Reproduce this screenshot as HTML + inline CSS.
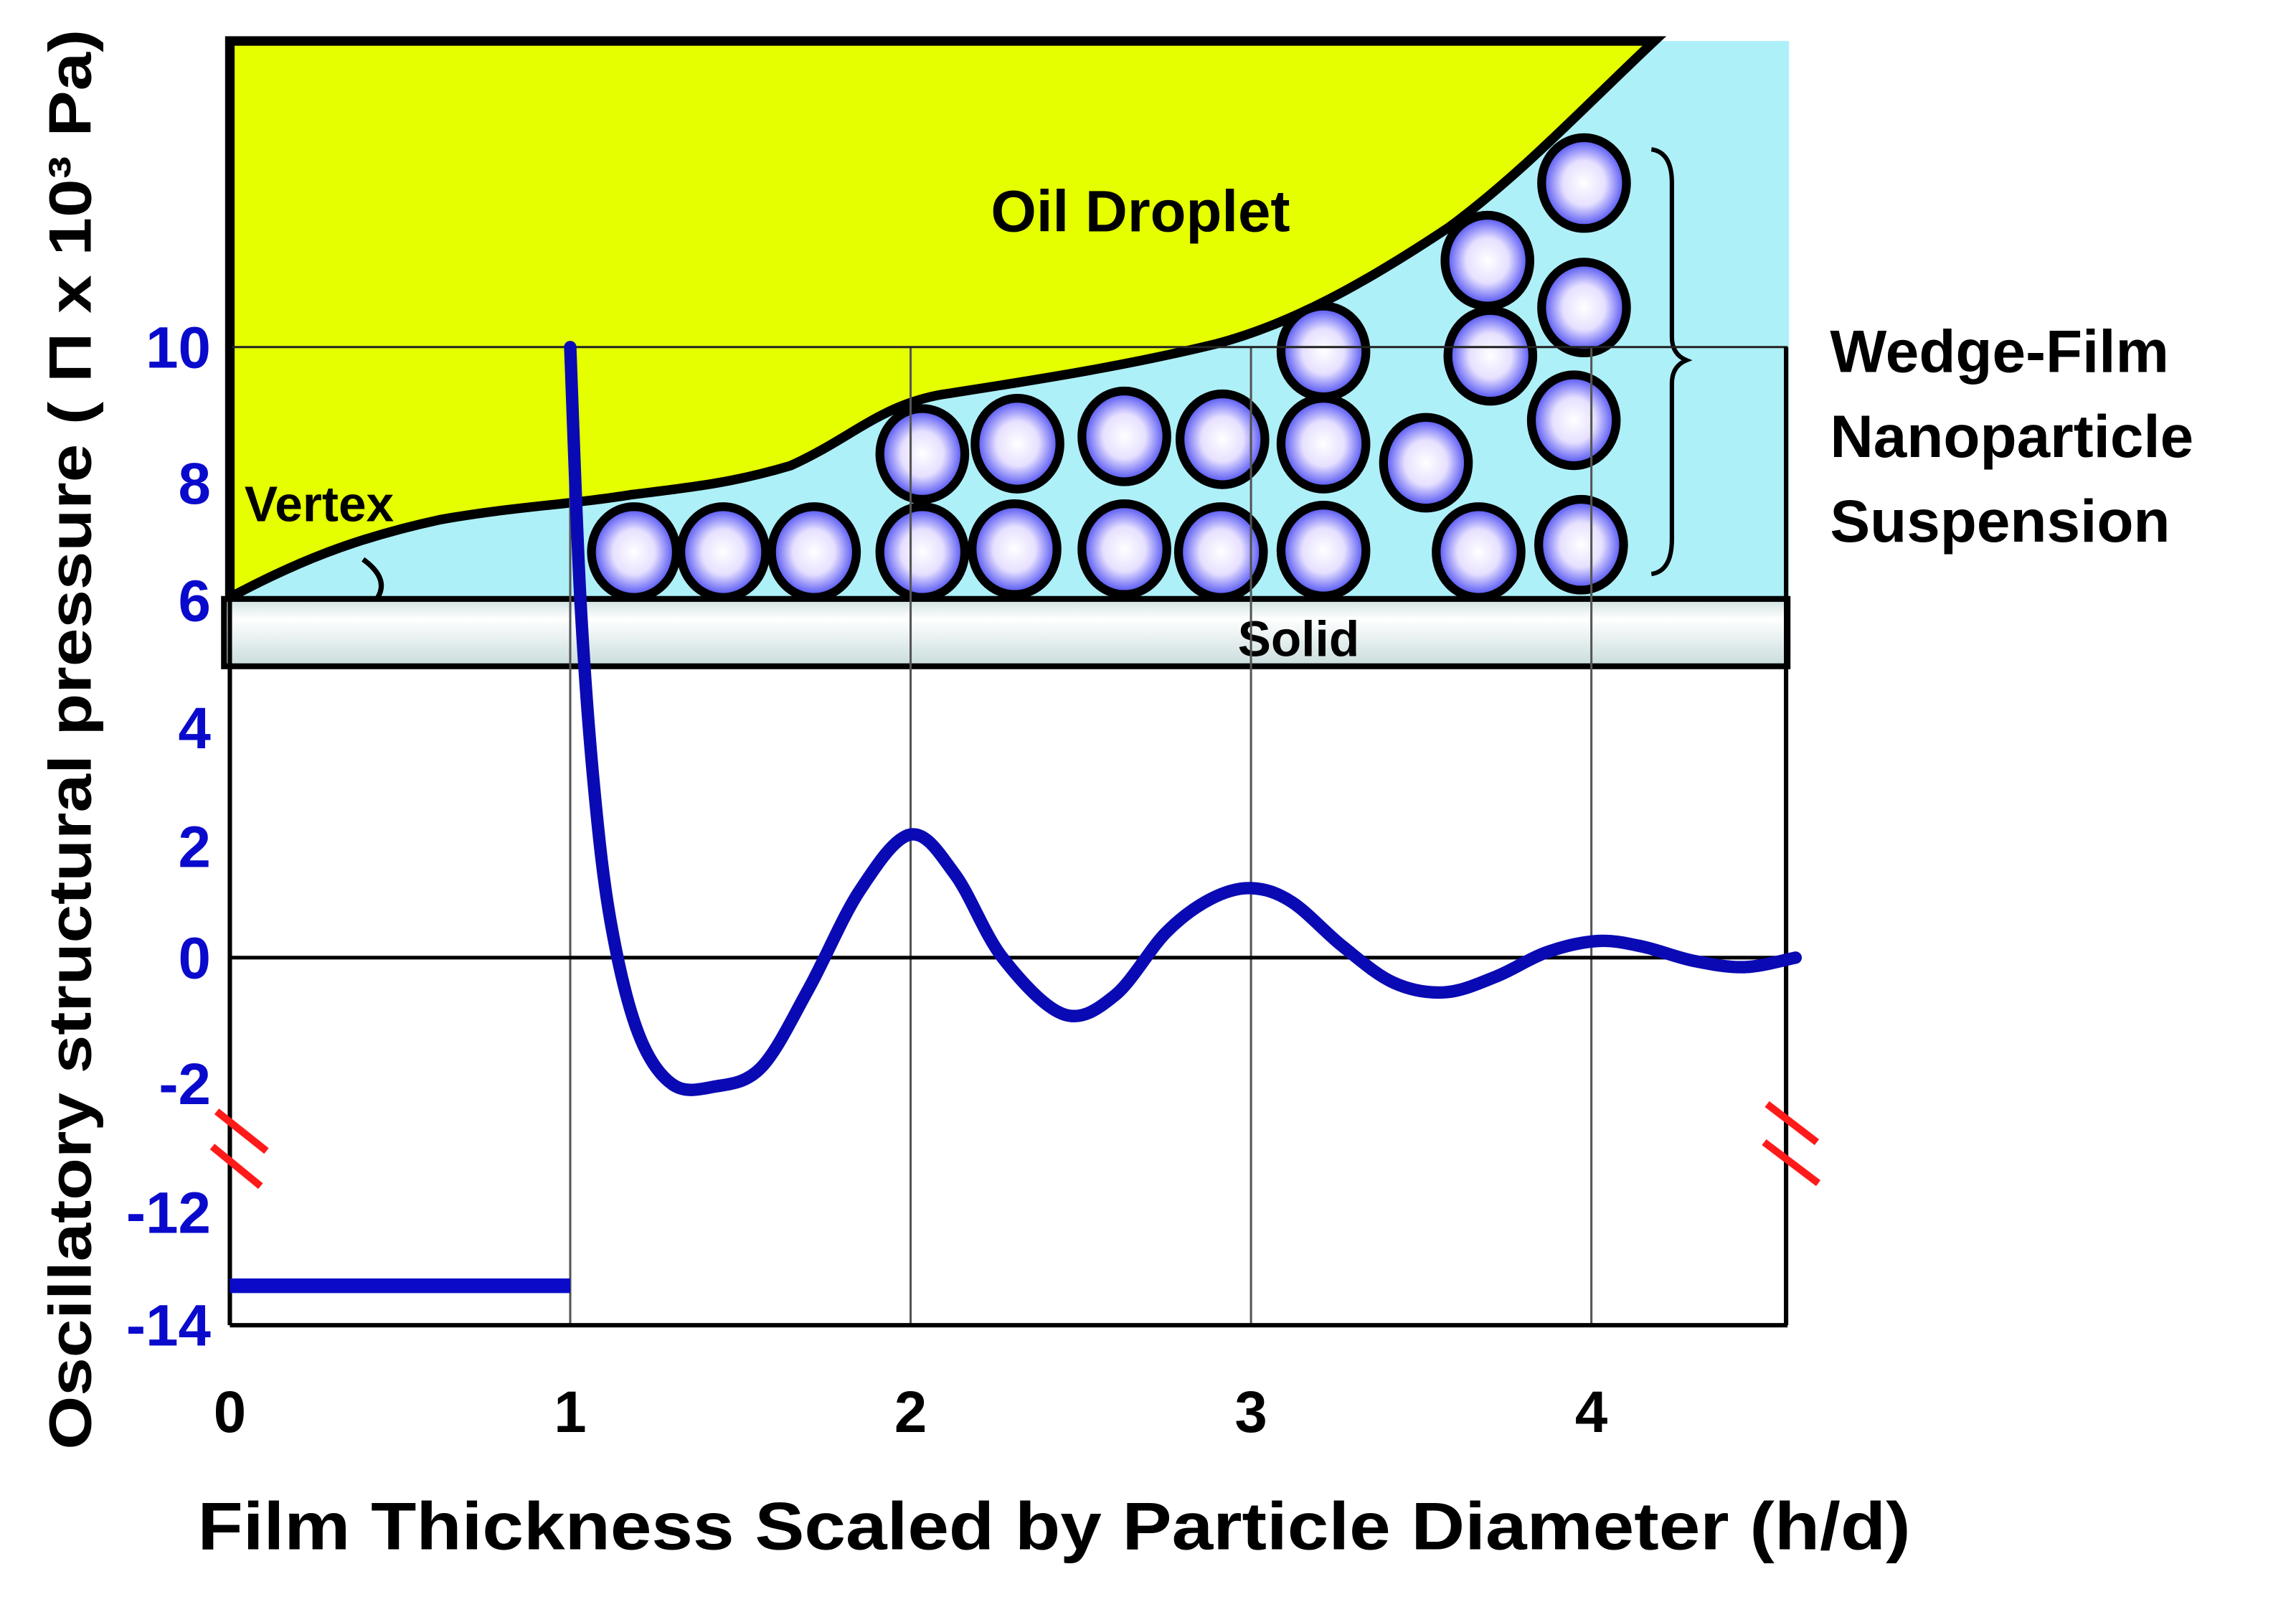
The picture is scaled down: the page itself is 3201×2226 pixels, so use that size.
<!DOCTYPE html>
<html><head><meta charset="utf-8"><style>
html,body{margin:0;padding:0;background:#fff;}
svg{display:block;}
text{font-family:"Liberation Sans",Arial,sans-serif;font-weight:bold;}
</style></head><body>
<svg id="chart" width="3201" height="2226" viewBox="0 0 1568.3 1090.6" xmlns="http://www.w3.org/2000/svg">
<defs>
<radialGradient id="pg" cx="50%" cy="50%" r="55%">
<stop offset="0" stop-color="#ffffff"/><stop offset="0.45" stop-color="#e6e0ff"/><stop offset="0.8" stop-color="#6a6af5"/><stop offset="1" stop-color="#2a2ae8"/>
</radialGradient>
<linearGradient id="sg" x1="0" y1="0" x2="0" y2="1">
<stop offset="0" stop-color="#cfe0e0"/><stop offset="0.3" stop-color="#ffffff"/><stop offset="1" stop-color="#c8dcdc"/>
</linearGradient>
</defs>
<rect x="157" y="28" width="1065" height="381" fill="#aef0f8"/>
<path d="M157,408 C200,385 240,368 300,355 C350,346 386,345 430,338 C470,333 500,330 540,318 C580,300 600,278 640,270 C690,262 760,252 830,235 C880,222 930,195 990,155 C1040,118 1080,75 1130,28 L157,28 Z" fill="#e5ff00" stroke="#000" stroke-width="6.5"/>
<line x1="157" y1="28" x2="1130" y2="28" stroke="#000" stroke-width="4"/>
<path d="M248,382 Q266,395 258,408" fill="none" stroke="#000" stroke-width="3.5"/>
<text x="779" y="158" font-size="40" text-anchor="middle">Oil Droplet</text>
<text x="167" y="356" font-size="34">Vertex</text>
<g id="particles"></g>
<path d="M1128,102 Q1142,104 1142,125 L1142,230 Q1142,242 1152,246 Q1142,250 1142,262 L1142,368 Q1142,390 1128,392" fill="none" stroke="#000" stroke-width="3"/>
<text x="1250" y="254" font-size="41">Wedge-Film</text>
<text x="1250" y="312" font-size="41">Nanoparticle</text>
<text x="1250" y="370" font-size="41">Suspension</text>
<rect x="153" y="409" width="1068" height="46" fill="url(#sg)" stroke="#000" stroke-width="4"/>
<text x="887" y="448" font-size="34" text-anchor="middle">Solid</text>
<g id="grid"></g>
<g id="axes"></g>
<g id="series"></g>
<g stroke="#ff1a1a" stroke-width="5">
<line x1="148" y1="759" x2="182" y2="786"/><line x1="145" y1="783" x2="178" y2="810"/>
</g>
<g stroke="#ff1a1a" stroke-width="5">
<line x1="1207" y1="754" x2="1241" y2="780"/><line x1="1205" y1="780" x2="1242" y2="808"/>
</g>
<text x="135" y="1058" font-size="46" textLength="1170" lengthAdjust="spacingAndGlyphs">Film Thickness Scaled by Particle Diameter (h/d)</text>
<text transform="translate(62,990) rotate(-90)" font-size="41" textLength="970" lengthAdjust="spacingAndGlyphs">Oscillatory structural pressure  ( Π x 10³ Pa)</text>
</svg>
<script>
// ---- data ----
const xTicks = [0, 1, 2, 3, 4];
const yTicks = [10, 8, 6, 4, 2, 0, -2, -12, -14];
const curveX = [1.0, 1.03, 1.07, 1.12, 1.2, 1.3, 1.42, 1.56, 1.7, 1.85, 2.0, 2.13, 2.27, 2.45, 2.6, 2.75, 2.88, 3.0, 3.12, 3.27, 3.42, 3.57, 3.72, 3.87, 4.02, 4.15, 4.3, 4.45, 4.6];
const curveY = [10, 6.0, 3.0, 0.6, -1.2, -2.05, -2.25, -1.75, -0.5, 1.2, 2.2, 1.5, 0.0, -0.9, -0.6, 0.45, 1.05, 1.25, 1.0, 0.2, -0.4, -0.55, -0.3, 0.1, 0.3, 0.2, -0.05, -0.15, 0.0];
const flatX = [0, 1];
const flatY = [-13.3, -13.3];
// ---- scales (displayed coords) ----
const X0 = 157, XU = 232.5;
function xs(v){ return X0 + v*XU; }
const tickPos = [237, 330, 410, 497, 578, 654, 740, 828, 905];
function ys(v){
  for (let i=0;i<yTicks.length-1;i++){
    const a=yTicks[i], b=yTicks[i+1];
    if (v<=a && v>=b) return tickPos[i] + (a-v)/(a-b)*(tickPos[i+1]-tickPos[i]);
  }
  return v>yTicks[0] ? tickPos[0] : tickPos[tickPos.length-1];
}
const NS="http://www.w3.org/2000/svg";
function mk(tag, attrs, parent){ const e=document.createElementNS(NS,tag); for(const k in attrs) e.setAttribute(k,attrs[k]); parent.appendChild(e); return e; }
const parts = [[433,377],[494,377],[556,377],[630,377],[693,375],[768,375],[834,377],[904,376],[1010,377],[1080,372],
[630,310],[695,303],[768,298],[835,300],[904,303],[974,316],[904,240],[1016,178],[1018,243],[1075,287],[1082,210],[1082,125]];
const pg=document.getElementById('particles');
parts.forEach(p=>{
  const c=mk('ellipse',{cx:p[0],cy:p[1],rx:29,ry:31,fill:'url(#pg)',stroke:'#000','stroke-width':6},pg);
  
  
});
const g=document.getElementById('grid');
xTicks.slice(1).forEach(v=>{
  const l=mk('line',{x1:xs(v),y1:ys(10),x2:xs(v),y2:905,stroke:'#555','stroke-width':1.5},g);
  
  
});
const h10=mk('line',{x1:157,y1:ys(10),x2:1221,y2:ys(10),stroke:'#222','stroke-width':1.5},g);


const h0=mk('line',{x1:157,y1:ys(0),x2:1221,y2:ys(0),stroke:'#000','stroke-width':2.5},g);


const ax=document.getElementById('axes');
const la=mk('line',{x1:157,y1:28,x2:157,y2:905,stroke:'#000','stroke-width':3},ax);


const ba=mk('line',{x1:157,y1:905,x2:1221,y2:905,stroke:'#000','stroke-width':3},ax);


const ra=mk('line',{x1:1220,y1:ys(10),x2:1220,y2:905,stroke:'#000','stroke-width':3},ax);


xTicks.forEach(v=>{
  const t=mk('text',{x:xs(v),y:978,'font-size':40,'text-anchor':'middle',fill:'#000'},ax);
  t.textContent=String(v);
  
  
});
yTicks.forEach(v=>{
  const t=mk('text',{x:144,y:ys(v)+14,'font-size':40,'text-anchor':'end',fill:'#0a0acc'},ax);
  t.textContent=String(v);
  
  
});
const s=document.getElementById('series');
const pts=curveX.map((x,i)=>[xs(x),ys(curveY[i])]);
let d='M'+pts[0][0]+','+pts[0][1];
for(let i=0;i<pts.length-1;i++){
  const p0=pts[Math.max(0,i-1)],p1=pts[i],p2=pts[i+1],p3=pts[Math.min(pts.length-1,i+2)];
  const c1=[p1[0]+(p2[0]-p0[0])/6,p1[1]+(p2[1]-p0[1])/6];
  const c2=[p2[0]-(p3[0]-p1[0])/6,p2[1]-(p3[1]-p1[1])/6];
  d+=' C'+c1[0]+','+c1[1]+' '+c2[0]+','+c2[1]+' '+p2[0]+','+p2[1];
}
const cp=mk('path',{d:d,fill:'none',stroke:'#0a0ab4','stroke-width':8.5,'stroke-linecap':'round','stroke-linejoin':'round'},s);


const fl=mk('line',{x1:xs(flatX[0]),y1:ys(flatY[0]),x2:xs(flatX[1]),y2:ys(flatY[1]),stroke:'#0a0ac8','stroke-width':10},s);


</script>
</body></html>
